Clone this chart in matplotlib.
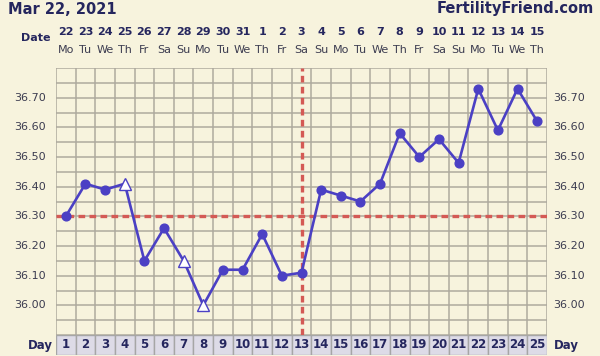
import matplotlib.pyplot as plt
import matplotlib.transforms as mtransforms

# chart data
cycle_days = list(range(1, 26))
dates = [22, 23, 24, 25, 26, 27, 28, 29, 30, 31, 1, 2, 3, 4, 5, 6, 7, 8, 9, 10, 11, 12, 13, 14, 15]
weekdays = ["Mo", "Tu", "We", "Th", "Fr", "Sa", "Su"] * 4
temps = [36.30, 36.41, 36.39, 36.41, 36.15, 36.26, 36.15, 36.00, 36.12, 36.12,
         36.24, 36.10, 36.11, 36.39, 36.37, 36.35, 36.41, 36.58, 36.50, 36.56,
         36.48, 36.73, 36.59, 36.73, 36.62]
discarded = [4, 7, 8]  # open triangles
coverline = 36.30
ovulation_day = 13
yticks = [36.00, 36.10, 36.20, 36.30, 36.40, 36.50, 36.60, 36.70]

bg = "#f7f3dd"
navy = "#25265e"
txt = "#3c3c50"
blue = "#4b40c4"
red = "#d45a55"
gridc = "#aeaa9e"

W, H = 600, 356
fig = plt.figure(figsize=(6, 3.56), dpi=100, facecolor=bg)

def fx(px):
    return px / W

def fy(py):
    return 1 - py / H

left, right, top, bottom = 56, 547, 68, 335
ax = fig.add_axes([fx(left), fy(bottom), fx(right - left), (bottom - top) / H])
ax.set_facecolor(bg)
ax.set_xlim(0.5, 25.5)
ax.set_ylim(35.90, 36.80)

# grid
for x in range(0, 26):
    ax.axvline(x + 0.5, color=gridc, lw=1.1, zorder=1)
y = 35.90
while y < 36.81:
    ax.axhline(y, color=gridc, lw=1.1, zorder=1)
    y += 0.05
for s in ax.spines.values():
    s.set_visible(False)
ax.set_xticks([])
ax.set_yticks([])

# coverline and ovulation line
ax.axhline(coverline, color=red, lw=2.4, ls=(0, (2.0, 1.3)), zorder=2)
ax.axvline(ovulation_day, color=red, lw=2.4, ls=(0, (2.0, 1.3)), zorder=2)

# temperature line
ax.plot(cycle_days, temps, color=blue, lw=1.9, zorder=3)
filled_x = [d for d in cycle_days if d not in discarded]
filled_y = [temps[d - 1] for d in filled_x]
ax.plot(filled_x, filled_y, "o", color=blue, ms=6.3, zorder=4, ls="none")
open_y = [temps[d - 1] for d in discarded]
ax.plot(discarded, open_y, "^", mfc="white", mec=blue, mew=1.0, ms=8, zorder=4, ls="none")

# y labels on both sides
for t in yticks:
    ax.text(-0.02, t, f"{t:.2f}", transform=ax.get_yaxis_transform(), ha="right",
            va="center", fontsize=8, color=txt)
    ax.text(1.012, t, f"{t:.2f}", transform=ax.get_yaxis_transform(), ha="left",
            va="center", fontsize=8, color=txt)

# header text
trans = mtransforms.blended_transform_factory(ax.transData, fig.transFigure)
for d, dt, wd in zip(cycle_days, dates, weekdays):
    fig.text(d, fy(32), str(dt), transform=trans, ha="center", va="center",
             fontsize=8, fontweight="bold", color=navy)
    fig.text(d, fy(50), wd, transform=trans, ha="center", va="center",
             fontsize=8, color=txt)
fig.text(fx(36), fy(38), "Date", ha="center", va="center", fontsize=8,
         fontweight="bold", color=navy)
fig.text(fx(8), fy(9), "Mar 22, 2021", ha="left", va="center", fontsize=10.5,
         fontweight="bold", color=navy)
fig.text(fx(594), fy(9), "FertilityFriend.com", ha="right", va="center",
         fontsize=10.5, fontweight="bold", color=navy)

# day row
dax = fig.add_axes([fx(left), fy(355), fx(right - left), 20 / H])
dax.set_xlim(0.5, 25.5)
dax.set_ylim(0, 1)
dax.bar(cycle_days, [1] * len(cycle_days), width=1.0, bottom=0, color="#dddbe7",
        edgecolor="#a6a6a6", lw=1.0)
for d in cycle_days:
    dax.text(d, 0.5, str(d), ha="center", va="center", fontsize=8.5,
             fontweight="bold", color=navy)
dax.axis("off")
fig.text(fx(40), fy(345), "Day", ha="center", va="center", fontsize=8.5,
         fontweight="bold", color=navy)
fig.text(fx(566), fy(345), "Day", ha="center", va="center", fontsize=8.5,
         fontweight="bold", color=navy)

fig.savefig("out.png", dpi=100, facecolor=bg)
